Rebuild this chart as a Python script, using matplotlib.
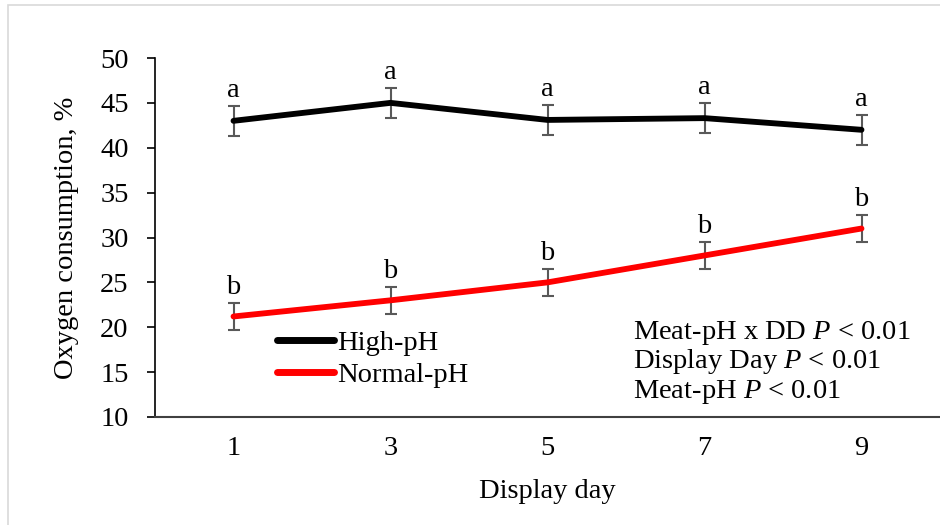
import numpy as np
import matplotlib.pyplot as plt
from matplotlib.patches import Rectangle

plt.rcParams['font.family'] = ['Liberation Serif', 'DejaVu Serif']
plt.rcParams['mathtext.fontset'] = 'custom'
plt.rcParams['mathtext.it'] = 'Liberation Serif:italic'
plt.rcParams['mathtext.rm'] = 'Liberation Serif'

days = [1, 3, 5, 7, 9]
high_ph = [43.0, 45.0, 43.1, 43.3, 42.0]
normal_ph = [21.2, 23.0, 25.0, 28.0, 31.0]
high_err = [1.7, 1.7, 1.7, 1.7, 1.7]
normal_err = [1.5, 1.5, 1.5, 1.5, 1.5]
high_letters = ["a", "a", "a", "a", "a"]
normal_letters = ["b", "b", "b", "b", "b"]
stats_lines = ["Meat-pH x DD $\\it{P}$ < 0.01",
               "Display Day $\\it{P}$ < 0.01",
               "Meat-pH $\\it{P}$ < 0.01"]

W, H = 940, 525
FS = 20.5

fig = plt.figure(figsize=(W / 100, H / 100), dpi=100)
ax = fig.add_axes([155 / W, 1 - 417 / H, (W - 155) / W, (417 - 58) / H])

# light gray frame around the chart area
fig.patches.append(Rectangle((8 / W, -0.1), 1.1, 1 - 5 / H + 0.1, transform=fig.transFigure,
                             fill=False, edgecolor='#d9d9d9', linewidth=1.2))

ax.errorbar(days, high_ph, yerr=high_err, fmt='none', ecolor='#595959', elinewidth=1.5,
            capsize=4.5, capthick=1.5, zorder=2)
ax.errorbar(days, normal_ph, yerr=normal_err, fmt='none', ecolor='#595959', elinewidth=1.5,
            capsize=4.5, capthick=1.5, zorder=2)
ax.plot(days, high_ph, color='black', linewidth=4.2, solid_capstyle='round',
        solid_joinstyle='round', label='High-pH', zorder=3)
ax.plot(days, normal_ph, color='#ff0000', linewidth=4.2, solid_capstyle='round',
        solid_joinstyle='round', label='Normal-pH', zorder=3)

for x, y, e, s in zip(days, high_ph, high_err, high_letters):
    ax.annotate(s, (x, y + e), xytext=(0, 6.5), textcoords='offset points',
                ha='center', va='baseline', fontsize=FS)
for x, y, e, s in zip(days, normal_ph, normal_err, normal_letters):
    ax.annotate(s, (x, y + e), xytext=(0, 6.5), textcoords='offset points',
                ha='center', va='baseline', fontsize=FS)

ax.set_xlim(0, 10)
ax.set_ylim(10, 50)
ax.set_yticks(np.arange(10, 51, 5))
ax.set_xticks(days)
ax.tick_params(axis='y', direction='out', length=6, width=1.2, labelsize=FS, pad=13)
ax.tick_params(axis='x', length=0, labelsize=FS, pad=14)
for side in ['top', 'right']:
    ax.spines[side].set_visible(False)
ax.spines['left'].set_linewidth(1.2)
ax.spines['bottom'].set_linewidth(1.5)
ax.spines['bottom'].set_color('#404040')

ax.set_xlabel('Display day', fontsize=FS)
ax.xaxis.set_label_coords(0.5, (417 - 479) / (417 - 58))
ax.set_ylabel('Oxygen consumption, %', fontsize=FS)
ax.yaxis.set_label_coords((79 - 155) / (W - 155), 0.5)

ax.legend(loc='upper left', bbox_to_anchor=(277 / W, 1 - 330 / H), bbox_transform=fig.transFigure,
          frameon=False, fontsize=FS, handlelength=2.0, handletextpad=0.1, labelspacing=0.2,
          borderpad=0, borderaxespad=0)
for line in ax.get_legend().get_lines():
    line.set_linewidth(5)

for i, s in enumerate(stats_lines):
    fig.text(633 / W, 1 - (339 + 29.5 * i) / H, s, fontsize=FS, ha='left', va='baseline')

fig.savefig('out.png', dpi=100)
